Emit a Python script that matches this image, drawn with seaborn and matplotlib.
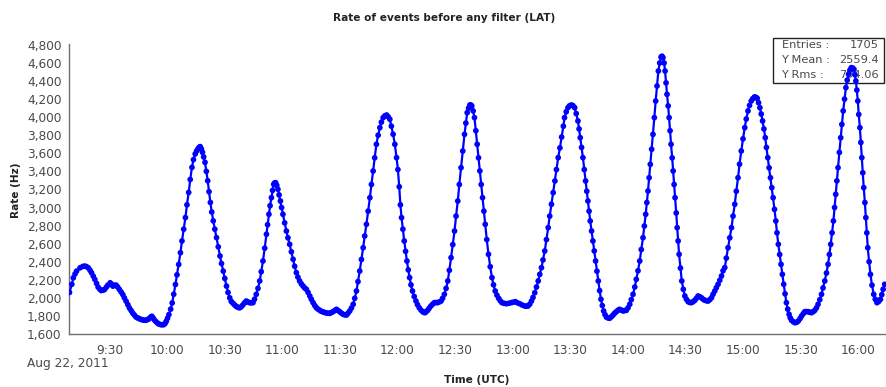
import matplotlib
matplotlib.use("Agg")
import matplotlib.pyplot as plt
import matplotlib.dates as mdates
from matplotlib.patches import Rectangle
from matplotlib.ticker import FuncFormatter
import numpy as np
import pandas as pd
import seaborn as sns

# ---- data ----
title = "Rate of events before any filter (LAT)"
x_label = "Time (UTC)"
y_label = "Rate (Hz)"
date_label = "Aug 22, 2011"
stats_labels = ["Entries :", "Y Mean :", "Y Rms :"]
stats_values = ["1705", "2559.4", "794.06"]

# minutes after 09:00 UTC
minutes = [
    9.1, 10.3, 11.1, 12.0, 12.8, 14.6, 16.0, 17.1, 18.0, 18.9, 19.8, 20.6, 21.5, 22.3, 23.2, 24.0,
    24.9, 25.7, 26.6, 27.4, 28.3, 29.1, 30.3, 31.0, 31.7, 32.5, 33.4, 34.2, 35.1, 36.0, 36.9, 37.7,
    38.6, 39.5, 40.3, 41.2, 42.0, 42.9, 43.7, 44.6, 45.4, 46.3, 47.2, 48.0, 48.9, 49.8, 50.6, 51.3,
    52.0, 52.6, 53.2, 54.0, 54.9, 55.7, 56.6, 57.4, 58.3, 59.0, 59.5, 60.2, 60.9, 61.8, 62.6, 63.4,
    64.3, 65.1, 66.0, 66.9, 67.7, 68.6, 69.5, 70.3, 71.2, 72.0, 72.9, 73.7, 74.6, 75.3, 76.0, 76.6,
    77.2, 77.8, 78.4, 79.0, 79.7, 80.4, 81.1, 81.8, 82.5, 83.2, 84.0, 84.8, 85.7, 86.6, 87.5, 88.3,
    89.2, 90.0, 90.9, 91.7, 92.6, 93.4, 94.3, 95.2, 96.0, 96.9, 97.7, 98.5, 99.4, 100.3, 101.2, 102.0,
    102.9, 103.8, 104.7, 105.5, 106.4, 107.3, 108.2, 109.0, 109.9, 110.8, 111.7, 112.3, 113.0, 113.6,
    114.3, 114.9, 115.5, 116.0, 116.5, 117.1, 117.7, 118.3, 119.0, 119.6, 120.3, 121.2, 122.1, 122.9,
    123.8, 124.7, 125.6, 126.4, 127.3, 128.1, 129.0, 129.9, 130.8, 131.6, 132.5, 133.4, 134.3, 135.1,
    136.0, 136.9, 137.7, 138.6, 139.5, 140.3, 141.2, 142.1, 143.0, 143.8, 144.7, 145.5, 146.4, 147.3,
    148.2, 149.0, 149.9, 150.8, 151.7, 152.5, 153.4, 154.2, 155.1, 156.0, 156.9, 157.7, 158.6, 159.4,
    160.3, 161.2, 162.1, 162.9, 163.8, 164.7, 165.6, 166.4, 167.3, 168.1, 169.0, 169.9, 170.8, 171.6,
    172.5, 173.4, 174.3, 175.1, 176.0, 176.8, 177.7, 178.6, 179.5, 180.2, 180.9, 181.5, 182.1, 182.8,
    183.5, 184.2, 184.9, 185.6, 186.3, 187.0, 187.8, 188.7, 189.6, 190.4, 191.3, 192.2, 193.1, 193.7,
    194.3, 195.0, 195.7, 196.5, 197.4, 198.3, 199.2, 200.0, 200.9, 201.8, 202.7, 203.5, 204.4, 205.3,
    206.2, 207.0, 207.9, 208.8, 209.7, 210.5, 211.4, 212.2, 213.1, 214.0, 214.9, 215.6, 216.3, 217.0,
    217.7, 218.2, 218.7, 219.4, 220.1, 220.8, 221.5, 222.2, 222.9, 223.6, 224.3, 225.0, 225.7, 226.5,
    227.4, 228.3, 229.2, 230.0, 230.9, 231.8, 232.7, 233.5, 234.4, 235.5, 236.7, 238.0, 239.3, 240.3,
    241.4, 242.5, 243.7, 245.0, 246.3, 247.1, 248.0, 248.9, 249.8, 250.6, 251.5, 252.4, 253.3, 254.1,
    255.0, 255.8, 256.7, 257.6, 258.5, 259.3, 260.2, 261.1, 262.0, 262.8, 263.7, 264.6, 265.5, 266.4,
    267.0, 267.9, 268.8, 269.6, 270.5, 271.4, 272.3, 273.1, 274.0, 274.6, 275.2, 275.9, 276.6, 277.3,
    278.0, 278.6, 279.2, 279.8, 280.4, 281.1, 281.8, 282.5, 283.2, 283.9, 284.6, 285.3, 286.0, 286.7,
    287.4, 288.1, 288.8, 289.6, 290.5, 291.4, 292.3, 293.1, 294.0, 294.8, 295.7, 296.6, 297.5, 298.3,
    299.2, 300.1, 301.0, 301.8, 302.7, 303.6, 304.4, 305.3, 306.2, 307.0, 307.9, 308.6, 309.3, 309.9,
    310.5, 311.1, 311.7, 312.4, 313.1, 313.8, 314.5, 315.2, 315.9, 316.6, 317.3, 317.8, 318.3, 318.9,
    319.4, 319.9, 320.4, 321.0, 321.5, 322.0, 322.5, 323.1, 323.6, 324.1, 324.6, 325.2, 325.7, 326.2,
    326.7, 327.4, 328.1, 328.9, 329.7, 330.5, 331.4, 332.2, 333.1, 334.0, 334.9, 335.7, 336.6, 337.4,
    338.3, 339.2, 340.1, 341.0, 341.8, 342.7, 343.6, 344.4, 345.3, 346.1, 347.0, 347.9, 348.8, 349.6,
    350.5, 351.3, 352.2, 353.1, 354.0, 354.8, 355.7, 356.5, 357.4, 358.2, 359.1, 360.0, 360.9, 361.7,
    362.6, 363.4, 364.3, 365.1, 366.0, 366.7, 367.4, 368.1, 368.8, 369.5, 370.2, 370.9, 371.6, 372.2,
    372.9, 373.6, 374.3, 375.0, 375.7, 376.4, 377.1, 377.7, 378.4, 379.1, 379.8, 380.5, 381.2, 381.9,
    382.6, 383.3, 384.0, 384.6, 385.3, 386.2, 387.1, 388.0, 388.8, 389.7, 390.5, 391.4, 392.2, 393.1,
    394.0, 394.8, 395.7, 396.6, 397.4, 398.3, 399.1, 400.0, 400.9, 401.7, 402.6, 403.5, 404.3, 405.0,
    405.7, 406.4, 407.1, 407.7, 408.3, 408.9, 409.5, 410.2, 410.9, 411.5, 412.2, 412.9, 413.6, 414.3,
    415.0, 415.7, 416.4, 417.1, 417.8, 418.3, 418.8, 419.3, 419.8, 420.3, 420.9, 421.4, 421.9, 422.4,
    422.9, 423.5, 424.0, 424.5, 425.0, 425.7, 426.4, 427.2, 428.1, 428.9, 429.8, 430.7, 431.6, 432.3,
    433.0, 433.8,
]

rates = [
    2060, 2150, 2222, 2265, 2296, 2333, 2348, 2352, 2345, 2333, 2305, 2278, 2240, 2204, 2160, 2119,
    2095, 2081, 2085, 2093, 2118, 2141, 2167, 2150, 2130, 2140, 2141, 2120, 2093, 2065, 2037, 2000,
    1963, 1925, 1889, 1860, 1833, 1810, 1789, 1778, 1770, 1762, 1756, 1753, 1752, 1760, 1770, 1785,
    1796, 1780, 1759, 1740, 1722, 1710, 1704, 1702, 1704, 1720, 1741, 1775, 1815, 1875, 1944, 2040,
    2148, 2255, 2370, 2500, 2630, 2760, 2889, 3030, 3167, 3310, 3444, 3530, 3593, 3625, 3648, 3665,
    3674, 3650, 3611, 3560, 3500, 3400, 3296, 3175, 3056, 2950, 2852, 2760, 2667, 2565, 2463, 2380,
    2296, 2215, 2130, 2060, 2000, 1960, 1940, 1920, 1905, 1895, 1890, 1900, 1921, 1945, 1965, 1955,
    1947, 1945, 1947, 1985, 2039, 2105, 2187, 2290, 2408, 2550, 2704, 2810, 2925, 3020,
    3109, 3190, 3257, 3272, 3275, 3245, 3202, 3140, 3072, 3000, 2925, 2830, 2740, 2665,
    2593, 2510, 2427, 2350, 2279, 2230, 2187, 2155, 2131, 2110, 2095, 2060, 2021, 1985,
    1947, 1915, 1891, 1875, 1862, 1852, 1844, 1838, 1833, 1830, 1829, 1837, 1847, 1860,
    1873, 1860, 1847, 1830, 1818, 1812, 1810, 1830, 1855, 1888, 1929, 1995, 2076, 2180,
    2297, 2425, 2555, 2685, 2814, 2960, 3109, 3255, 3404, 3550, 3700, 3800, 3884, 3945,
    3994, 4015, 4024, 4005, 3977, 3900, 3811, 3700, 3552, 3420, 3230, 3030, 2888, 2760,
    2630, 2515, 2408, 2310, 2224, 2145, 2076, 2015, 1965, 1925, 1891, 1865, 1847, 1840,
    1836, 1848, 1862, 1885, 1910, 1930, 1947, 1948, 1947, 1955, 1965, 1995, 2039, 2105,
    2187, 2305, 2445, 2590, 2740, 2905, 3072, 3255, 3441, 3625, 3810, 3935, 4050, 4100,
    4135, 4135, 4124, 4070, 3995, 3850, 3700, 3550, 3405, 3255, 3109, 2960, 2814, 2645,
    2482, 2345, 2224, 2145, 2076, 2030, 1995, 1968, 1947, 1940, 1935, 1940, 1947, 1952,
    1958, 1945, 1935, 1920, 1910, 1908, 1910, 1930, 1965, 2005, 2057, 2120, 2187, 2260,
    2334, 2420, 2519, 2645, 2777, 2905, 3036, 3165, 3294, 3420, 3552, 3660, 3780, 3900,
    3995, 4060, 4105, 4125, 4135, 4128, 4105, 4040, 3958, 3870, 3773, 3665, 3552, 3420,
    3294, 3180, 3072, 2960, 2851, 2740, 2630, 2520, 2408, 2295, 2187, 2080, 1984, 1915,
    1855, 1815, 1788, 1778, 1774, 1790, 1810, 1830, 1847, 1862, 1873, 1865, 1855, 1860,
    1862, 1890, 1929, 1980, 2039, 2120, 2205, 2300, 2408, 2535, 2666, 2795, 2925, 3055,
    3183, 3330, 3478, 3645, 3810, 3995, 4179, 4345, 4511, 4600, 4666, 4675, 4659, 4600,
    4511, 4380, 4253, 4125, 3995, 3850, 3700, 3550, 3405, 3255, 3109, 2940, 2777, 2630,
    2482, 2330, 2187, 2095, 2021, 1985, 1958, 1950, 1947, 1958, 1973, 1995, 2021, 2012,
    2002, 1985, 1973, 1968, 1965, 1980, 2002, 2040, 2076, 2112, 2150, 2195, 2242, 2300,
    2335, 2440, 2555, 2665, 2777, 2905, 3036, 3180, 3330, 3480, 3626, 3760, 3884, 3980,
    4069, 4130, 4179, 4205, 4224, 4220, 4209, 4160, 4105, 4035, 3958, 3870, 3773, 3665,
    3552, 3440, 3330, 3220, 3109, 2980, 2851, 2720, 2593, 2480, 2371, 2260, 2150, 2045,
    1947, 1875, 1818, 1780, 1752, 1735, 1725, 1730, 1744, 1770, 1799, 1825, 1847, 1848,
    1847, 1840, 1836, 1848, 1862, 1890, 1929, 1980, 2039, 2110, 2187, 2275, 2371, 2480,
    2593, 2720, 2851, 3000, 3146, 3295, 3441, 3610, 3773, 3920, 4069, 4200, 4327, 4410,
    4475, 4520, 4548, 4545, 4530, 4470, 4401, 4300, 4179, 4030, 3884, 3720, 3552, 3385,
    3220, 3055, 2888, 2720, 2555, 2400, 2260, 2140, 2039, 1985, 1947, 1960, 1984, 2035,
    2095, 2150,
]

y_ticks = list(range(1600, 4801, 200))

# ---- figure ----
sns.set_theme(style="white")
plt.rcParams["font.family"] = ["DejaVu Sans"]

W, H = 886, 387
fig = plt.figure(figsize=(W / 100, H / 100), dpi=100)
fig.patch.set_facecolor("white")

def fx(px):
    return px / W

def fy(py):
    return 1 - py / H

ax_left, ax_right, ax_top, ax_bottom = 69.3, 886.0, 44.0, 334.0
ax = fig.add_axes([fx(ax_left), fy(ax_bottom), fx(ax_right - ax_left), (ax_bottom - ax_top) / H])
ax.set_facecolor("white")

base = pd.Timestamp("2011-08-22 09:00:00")
df = pd.DataFrame({
    "time": base + pd.to_timedelta(minutes, unit="m"),
    "rate": rates,
})

blue = "#0000ff"
sns.lineplot(data=df, x="time", y="rate", color=blue, linewidth=1.6, ax=ax, zorder=3)
sns.scatterplot(data=df, x="time", y="rate", color=blue, s=17, edgecolor="none",
                linewidth=0, ax=ax, zorder=4)

ax.set_xlim(base + pd.Timedelta(minutes=9.0), base + pd.Timedelta(minutes=434.5))
ax.set_ylim(1600, 4810)
ax.set_yticks(y_ticks)
ax.yaxis.set_major_formatter(FuncFormatter(lambda v, p: f"{v:,.0f}"))
ax.xaxis.set_major_locator(mdates.MinuteLocator(byminute=[0, 30]))
ax.xaxis.set_major_formatter(mdates.DateFormatter("%-H:%M"))
ax.set_xlabel("")
ax.set_ylabel("")

for side in ["top", "right"]:
    ax.spines[side].set_visible(False)
for side in ["left", "bottom"]:
    ax.spines[side].set_color("#6e6e6e")
    ax.spines[side].set_linewidth(1.0)

ax.tick_params(axis="both", which="major", direction="inout", length=7, width=1,
               color="#6e6e6e", labelcolor="#4a4a4a", labelsize=8.7)
ax.tick_params(axis="y", pad=2)
ax.tick_params(axis="x", pad=4)
ax.grid(False)

# titles and labels
fig.text(fx(444), fy(18), title, ha="center", va="center", fontsize=7.6,
         fontweight="bold", color="#222222")
fig.text(fx(16), fy(190), y_label, ha="center", va="center", rotation=90,
         fontsize=7.6, fontweight="bold", color="#222222")
fig.text(fx(477), fy(380), x_label, ha="center", va="center", fontsize=7.6,
         fontweight="bold", color="#222222")
fig.text(fx(27), fy(364), date_label, ha="left", va="center", fontsize=8.7,
         color="#4a4a4a")

# statistics box (drawn beneath the data points)
box = Rectangle((fx(773), fy(83)), fx(884 - 773), (83 - 38) / H, transform=fig.transFigure,
                facecolor="white", edgecolor="#222222", linewidth=1.0, zorder=1,
                clip_on=False)
ax.add_artist(box)
for i, (lab, val) in enumerate(zip(stats_labels, stats_values)):
    yy = fy(45.5 + 14.7 * i)
    ax.text(fx(781.5), yy, lab, transform=fig.transFigure, ha="left", va="center",
            fontsize=8.2, color="#4a4a4a", zorder=2, clip_on=False)
    ax.text(fx(878.5), yy, val, transform=fig.transFigure, ha="right", va="center",
            fontsize=8.2, color="#4a4a4a", zorder=2, clip_on=False)

fig.savefig("out.png", dpi=100, facecolor="white")
